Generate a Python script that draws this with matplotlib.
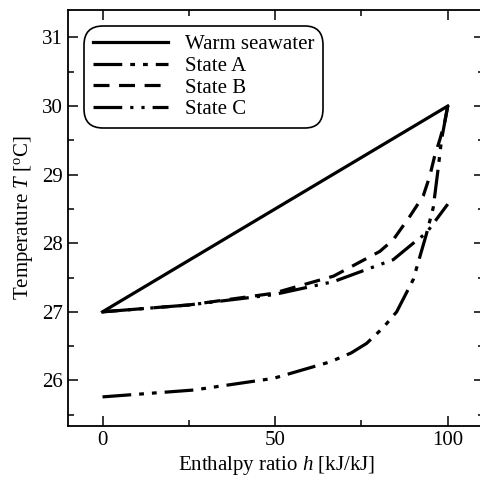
import matplotlib
matplotlib.use("Agg")
import matplotlib.pyplot as plt
from matplotlib.ticker import MultipleLocator

plt.rcParams['font.family'] = ['Liberation Serif', 'DejaVu Serif']
plt.rcParams['mathtext.fontset'] = 'custom'
plt.rcParams['mathtext.rm'] = 'Liberation Serif'
plt.rcParams['mathtext.it'] = 'Liberation Serif:italic'

# Data
warm_h = [0, 100]
warm_T = [27.0, 30.0]

stateA_h = [0, 26.4, 49.5, 65.9, 72.0, 76.5, 81.3, 85.2, 90.0, 93.8, 95.8, 97.2, 98.2, 100]
stateA_T = [25.76, 25.86, 26.03, 26.27, 26.4, 26.54, 26.77, 27.0, 27.47, 28.13, 28.52, 29.08, 29.51, 30.0]

stateB_h = [0, 25, 49.5, 66.9, 80.3, 84.2, 89.0, 92.9, 94.8, 96.2, 97.7, 99.1, 100]
stateB_T = [27.0, 27.1, 27.27, 27.52, 27.88, 28.05, 28.39, 28.69, 28.98, 29.27, 29.51, 29.76, 30.0]

stateC_h = [0, 25, 49.5, 66.9, 84.2, 90.0, 93.8, 100]
stateC_T = [27.0, 27.1, 27.25, 27.44, 27.76, 28.0, 28.15, 28.57]

fig = plt.figure(figsize=(4.81, 4.79), dpi=100)
ax = fig.add_axes([68/481, 1-425.7/479, (484-68)/481, (425.7-10)/479])

lw = 2.3
ax.plot(warm_h, warm_T, color='black', lw=lw, ls='-', label='Warm seawater')
ax.plot(stateA_h, stateA_T, color='black', lw=lw, ls=(0, (9, 2.5, 1.5, 2.5, 1.5, 2.5)), label='State A')
ax.plot(stateB_h, stateB_T, color='black', lw=lw, ls=(0, (5, 3)), label='State B')
ax.plot(stateC_h, stateC_T, color='black', lw=lw, ls=(0, (9, 2.5, 1, 2.5, 1, 2.5)), label='State C')

ax.set_xlim(-10, 110.5)
ax.set_ylim(25.34, 31.4)
ax.xaxis.set_major_locator(MultipleLocator(50))
ax.xaxis.set_minor_locator(MultipleLocator(25))
ax.yaxis.set_major_locator(MultipleLocator(1))
ax.yaxis.set_minor_locator(MultipleLocator(0.5))
ax.tick_params(which='both', direction='in', top=True, right=True, labelsize=15, width=1.1)
ax.tick_params(which='major', length=7)
ax.tick_params(which='minor', length=4)
for s in ax.spines.values():
    s.set_linewidth(1.3)

ax.set_xlabel(r'Enthalpy ratio $h$ [kJ/kJ]', fontsize=15, labelpad=3)
ax.set_ylabel(r'Temperature $T$ [$^{\rm o}$C]', fontsize=15, labelpad=5)

leg = ax.legend(loc='upper left', fontsize=15, handlelength=3.6, frameon=True,
                fancybox=True, edgecolor='black', framealpha=1,
                borderpad=0.05, labelspacing=0.1, handletextpad=0.85,
                bbox_to_anchor=(0.057, 0.943), borderaxespad=0)
leg.get_frame().set_linewidth(1.2)
leg.get_frame().set_boxstyle('round,pad=0.35,rounding_size=0.9')

fig.savefig('out.png', dpi=100)
